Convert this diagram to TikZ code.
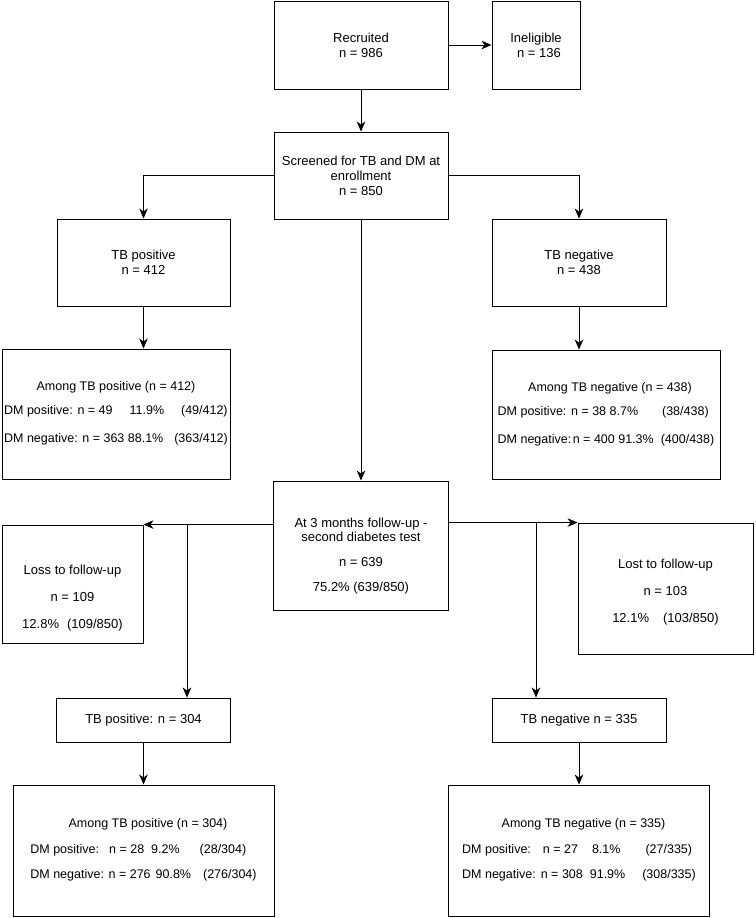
\documentclass[tikz,border=0pt]{standalone}
\usepackage{fontspec}
\setmainfont{Liberation Sans}
\usetikzlibrary{arrows.meta}

\begin{document}
\begin{tikzpicture}[x=1pt,y=-1pt,
  stage/.style={draw,line width=0.9pt,inner sep=0pt,align=center,font=\fontsize{13}{15}\selectfont},
  tally/.style={draw,line width=0.9pt,inner sep=0pt,font=\fontsize{12.5}{14}\selectfont},
  feed/.style={line width=0.9pt,-{Stealth[length=10pt,width=8.5pt,inset=3pt]}}]
\useasboundingbox (0,0) rectangle (755,918);

\node [stage,minimum width=174pt,minimum height=88pt] (rec) at (361,45) {Recruited\\n = 986};
\node [stage,minimum width=88pt,minimum height=88pt] (inel) at (536,45) {Ineligible\\\hspace*{6pt}n = 136};
\node [stage,minimum width=174pt,minimum height=87pt] (scr) at (361,175.5) {Screened for TB and DM at\\enrollment\\n = 850};
\node [stage,minimum width=173pt,minimum height=87pt] (tbp) at (143.5,262.5) {TB positive\\n = 412};
\node [stage,minimum width=174pt,minimum height=87pt] (tbn) at (579,262.5) {TB negative\\n = 438};

\node [tally,minimum width=228pt,minimum height=130pt] (amp) at (116,414) {\begin{tabular}{@{}l@{}}
\multicolumn{1}{@{}c@{}}{Among TB positive (n = 412)}\\[10pt]
DM positive: n = 49\hspace{17pt}11.9\%\hspace{17pt}(49/412)\\[14pt]
DM negative: n = 363 88.1\%\hspace{11pt}(363/412)
\end{tabular}};
\node [tally,minimum width=228pt,minimum height=129pt] (amn) at (606,414.5) {\begin{tabular}{@{}l@{}}
\multicolumn{1}{@{}c@{}}{\hspace{8pt}Among TB negative (n = 438)}\\[10pt]
DM positive: n = 38 8.7\%\hspace{24pt}(38/438)\\[14pt]
DM negative:\hspace{1.5pt}n = 400 91.3\%\hspace{7pt}(400/438)
\end{tabular}};

\node [stage,font=\fontsize{13}{14}\selectfont,minimum width=175pt,minimum height=129pt] (fu) at (361,545.5) {\mbox{}\\[16pt]At 3 months follow-up -\\second diabetes test\\[11pt]n = 639\\[11pt]75.2\% (639/850)};
\node [stage,minimum width=141pt,minimum height=118pt] (loss) at (72.5,584) {\mbox{}\\[22pt]Loss to follow-up\\[12pt]n = 109\\[12pt]12.8\%\hspace{8pt}(109/850)};
\node [stage,minimum width=175pt,minimum height=131pt] (lost) at (665.5,588.5) {\mbox{}\\[1pt]Lost to follow-up\\[12pt]n = 103\\[12pt]12.1\%\hspace{14pt}(103/850)};

\node [stage,minimum width=174pt,minimum height=44pt] (tbp2) at (143.5,720) {TB positive: n = 304};
\node [stage,minimum width=174pt,minimum height=44pt] (tbn2) at (579,720) {TB negative n = 335};

\node [tally,minimum width=261pt,minimum height=131pt] (amp2) at (143.5,850.5) {\begin{tabular}{@{}l@{}}
\multicolumn{1}{@{}c@{}}{\hspace{9pt}Among TB positive (n = 304)}\\[12pt]
DM positive:\hspace{10pt}n = 28\hspace{7pt}9.2\%\hspace{20pt}(28/304)\\[11pt]
DM negative: n = 276\hspace{5pt}90.8\%\hspace{12pt}(276/304)
\end{tabular}};
\node [tally,minimum width=261pt,minimum height=131pt] (amn2) at (579,850.5) {\begin{tabular}{@{}l@{}}
\multicolumn{1}{@{}c@{}}{\hspace{9pt}Among TB negative (n = 335)}\\[12pt]
DM positive:\hspace{12pt}n = 27\hspace{14pt}8.1\%\hspace{25pt}(27/335)\\[11pt]
DM negative:\hspace{5pt}n = 308\hspace{7pt}91.9\%\hspace{17pt}(308/335)
\end{tabular}};

\coordinate (lsplit) at (187,525);
\coordinate (rsplit) at (536,523);

\draw [feed] (rec) -- (inel);
\draw [feed] (rec) -- (scr);
\draw [feed] (scr.west) -| (tbp.north);
\draw [feed] (scr.east) -| (tbn.north);
\draw [feed] (tbp) -- (tbp.south |- amp.north);
\draw [feed] (tbn) -- (tbn.south |- amn.north);
\draw [feed] (scr) -- (fu);
\draw [feed] (fu.west |- loss.north) -- (loss.north east);
\draw [feed] (fu.east |- lost.north) -- (lost.north west);
\draw [feed] (lsplit) -- (lsplit |- tbp2.north);
\draw [feed] (rsplit) -- (rsplit |- tbn2.north);
\draw [feed] (tbp2) -- (amp2);
\draw [feed] (tbn2) -- (amn2);
\end{tikzpicture}
\end{document}
